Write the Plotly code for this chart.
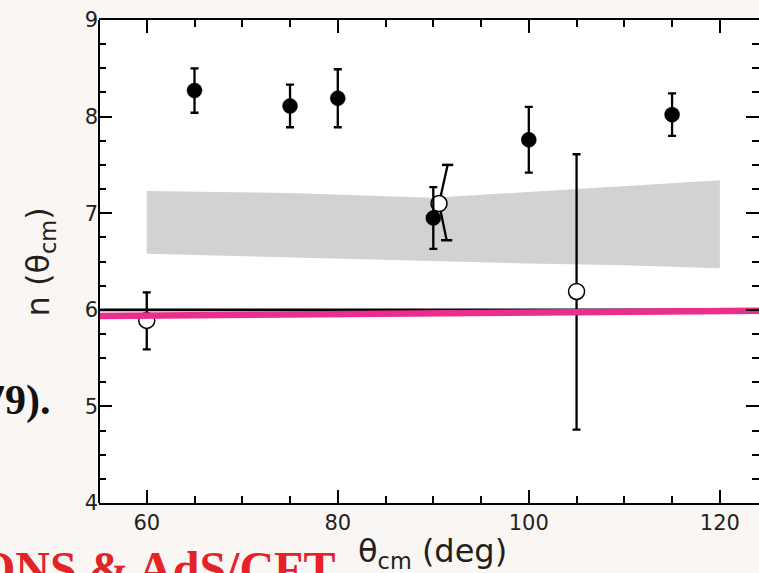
import plotly.graph_objects as go

# Measured exponent n at each c.m. angle (filled symbols)
theta_filled = [65, 75, 80, 90, 100, 115]
n_filled = [8.27, 8.11, 8.19, 6.95, 7.76, 8.02]
err_filled = [0.23, 0.22, 0.30, 0.32, 0.34, 0.22]

# Open symbols
theta_open = [60, 105]
n_open = [5.89, 6.19]
err_open_plus = [0.29, 1.42]
err_open_minus = [0.30, 1.43]

# Open point near 90 deg with a slanted uncertainty bar (upper end, centre, lower end)
theta_slant = [91.5, 90.6, 91.4]
n_slant = [7.50, 7.10, 6.72]

# Shaded band
band_theta = [60, 75, 90, 100, 110, 120]
band_low = [6.58, 6.54, 6.50, 6.48, 6.46, 6.43]
band_high = [7.23, 7.21, 7.16, 7.22, 7.275, 7.34]

# Reference levels
ref_theta = [55, 125]
ref_n = [6.0, 6.0]
pink_theta = [54, 125]
pink_n = [5.935, 5.991]

x_ticks = [60, 80, 100, 120]
y_ticks = [4, 5, 6, 7, 8, 9]

BG = "#FAF6F3"
FONT = "DejaVu Sans"

fig = go.Figure()

# band: lower edge, then upper edge filled down to it
fig.add_trace(go.Scatter(x=band_theta, y=band_low, mode="lines",
                         line=dict(width=0, color="#D1D2D4"), hoverinfo="skip"))
fig.add_trace(go.Scatter(x=band_theta, y=band_high, mode="lines", fill="tonexty",
                         fillcolor="#D1D2D4", line=dict(width=0, color="#D1D2D4"),
                         hoverinfo="skip"))

# black level at n = 6
fig.add_trace(go.Scatter(x=ref_theta, y=ref_n, mode="lines",
                         line=dict(color="black", width=2.7)))

# slanted bar with caps
fig.add_trace(go.Scatter(x=theta_slant, y=n_slant, mode="lines",
                         line=dict(color="black", width=2.3)))
fig.add_trace(go.Scatter(x=[theta_slant[0], theta_slant[2]], y=[n_slant[0], n_slant[2]],
                         mode="markers",
                         marker=dict(symbol="line-ew", size=8,
                                     line=dict(color="black", width=2.5))))

# open symbols
fig.add_trace(go.Scatter(
    x=theta_open, y=n_open, mode="markers",
    error_y=dict(type="data", symmetric=False, array=err_open_plus,
                 arrayminus=err_open_minus, color="black", thickness=2.3, width=4),
    marker=dict(symbol="circle", size=16, color="white",
                line=dict(color="black", width=1.5))))
fig.add_trace(go.Scatter(
    x=[theta_slant[1]], y=[n_slant[1]], mode="markers",
    marker=dict(symbol="circle", size=16, color="white",
                line=dict(color="black", width=1.5))))

# filled symbols
fig.add_trace(go.Scatter(
    x=theta_filled, y=n_filled, mode="markers",
    error_y=dict(type="data", array=err_filled, color="black", thickness=2.3, width=4),
    marker=dict(symbol="circle", size=15, color="black",
                line=dict(color="black", width=0.5))))

# magenta line
fig.add_trace(go.Scatter(x=pink_theta, y=pink_n, mode="lines",
                         line=dict(color="#EA2E8C", width=6.5)))

tick_common = dict(
    ticks="inside", ticklen=13, tickwidth=2, tickcolor="black",
    showgrid=False, zeroline=False,
    tickfont=dict(family=FONT, size=21, color="#231F20"),
)

fig.update_layout(
    width=759, height=573,
    margin=dict(l=99, r=0, t=20, b=70),
    paper_bgcolor=BG, plot_bgcolor="white",
    showlegend=False,
    xaxis=dict(range=[55, 124.1], tickvals=x_ticks,
               showline=True, linecolor="black", linewidth=2, mirror="ticks",
               minor=dict(dtick=5, tick0=0, ticks="inside", ticklen=7,
                          tickwidth=2, tickcolor="black"),
               **tick_common),
    # the frame's right edge falls outside the page, so only the left line is drawn
    yaxis=dict(range=[4, 9], tickvals=y_ticks,
               showline=False, mirror="ticks",
               minor=dict(dtick=0.25, tick0=0, ticks="inside", ticklen=7,
                          tickwidth=2, tickcolor="black"),
               **tick_common),
    shapes=[dict(type="line", xref="paper", yref="paper", x0=0, x1=0, y0=0, y1=1,
                 line=dict(color="black", width=2), layer="above")],
)

annotations = [
    dict(text="n (θ<sub>cm</sub>)", x=-0.0894, y=0.5, xref="paper", yref="paper",
         textangle=-90, showarrow=False, xanchor="center", yanchor="middle",
         font=dict(family=FONT, size=32, color="#231F20")),
    dict(text="θ<sub>cm</sub> (deg)", x=0.505, y=-0.103, xref="paper", yref="paper",
         showarrow=False, xanchor="center", yanchor="middle",
         font=dict(family=FONT, size=32, color="#231F20")),
    dict(text="<b>79).</b>", x=-0.0697, y=0.212, xref="paper", yref="paper",
         showarrow=False, xanchor="right", yanchor="middle",
         font=dict(family="Liberation Serif", size=42, color="#111111")),
    dict(text="<b>ONS & AdS/CFT</b>", x=0.3606, y=-0.135, xref="paper", yref="paper",
         showarrow=False, xanchor="right", yanchor="middle",
         font=dict(family="Liberation Serif", size=48, color="#E42228")),
]
fig.update_layout(annotations=annotations)

fig.write_html("out.html")
